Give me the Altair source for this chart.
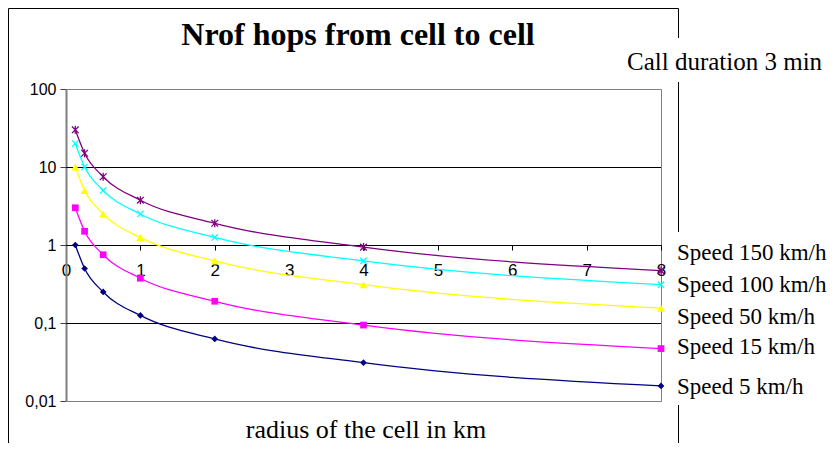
import altair as alt
import pandas as pd

# ---- data ----
radius = [0.125, 0.25, 0.5, 1, 2, 4, 8]
series_names = ["Speed 5 km/h", "Speed 15 km/h", "Speed 50 km/h", "Speed 100 km/h", "Speed 150 km/h"]
hops_5 = [1.0, 0.5, 0.25, 0.125, 0.0625, 0.031, 0.0156]
hops_15 = [3.0, 1.5, 0.75, 0.375, 0.19, 0.094, 0.047]
hops_50 = [10.0, 5.0, 2.5, 1.25, 0.625, 0.31, 0.155]
hops_100 = [20.0, 10.0, 5.0, 2.5, 1.25, 0.625, 0.31]
hops_150 = [30.0, 15.0, 7.5, 3.75, 1.9, 0.94, 0.47]
x_ticks = [0, 1, 2, 3, 4, 5, 6, 7, 8]
y_ticks = [0.01, 0.1, 1, 10, 100]
grid_vals = [0.1, 1, 10]

title_text = "Nrof hops from cell to cell"
subtitle_text = "Call duration 3 min"
x_title = "radius of the cell in km"

colors = ["#000080", "#FF00FF", "#FFFF00", "#00FFFF", "#800080"]
shapes = ["diamond", "square", "triangle-up",
          "M-1,-1L1,1M-1,1L1,-1",
          "M-1,-1L1,1M-1,1L1,-1M0,-1.2L0,1.2"]
filled = [True, True, True, False, False]
sizes = [45, 45, 65, 40, 45]

all_hops = [hops_5, hops_15, hops_50, hops_100, hops_150]
rows = []
for name, vals in zip(series_names, all_hops):
    for r, v in zip(radius, vals):
        rows.append({"radius": r, "hops": v, "series": name})
df = pd.DataFrame(rows)

W, H = 595, 312
SERIF = "Liberation Serif"
SANS = "Liberation Sans"

xs = alt.Scale(domain=[0, 8], nice=False, zero=False)
ys = alt.Scale(type="log", domain=[0.01, 100], nice=False)

xaxis = alt.Axis(values=x_ticks, offset=-156, tickSize=5, labelPadding=12,
                 domainColor="black", tickColor="black", labelColor="black",
                 labelFont=SANS, labelFontSize=17, grid=False, title=None,
                 labelAngle=0, labelFlush=False, labelOverlap=False, format="d")
yaxis = alt.Axis(values=y_ticks, tickSize=6, labelPadding=4,
                 domainColor="#808080", domainWidth=2, tickColor="#404040", labelColor="black",
                 labelFont=SANS, labelFontSize=16, grid=False, title=None,
                 labelExpr="replace(format(datum.value, '~g'), '.', ',')")

grid = alt.Chart(pd.DataFrame({"hops": grid_vals})).mark_rule(
    color="black", strokeWidth=1, yOffset=0.5).encode(
    y=alt.Y("hops:Q", scale=ys, axis=yaxis))

lines = alt.Chart(df).mark_line(interpolate="monotone", strokeWidth=1.3).encode(
    x=alt.X("radius:Q", scale=xs, axis=xaxis),
    y=alt.Y("hops:Q", scale=ys, axis=yaxis),
    color=alt.Color("series:N", scale=alt.Scale(domain=series_names, range=colors), legend=None),
)

layers = [grid, lines]
for name, col, shp, fil, sz in zip(series_names, colors, shapes, filled, sizes):
    pt = alt.Chart(df).transform_filter(alt.datum.series == name).mark_point(
        shape=shp, filled=fil, color=col, size=sz,
        strokeWidth=1.3, opacity=1).encode(
        x=alt.X("radius:Q", scale=xs, axis=xaxis),
        y=alt.Y("hops:Q", scale=ys, axis=yaxis),
    )
    layers.append(pt)

one = pd.DataFrame({"a": [0]})

def label(text, x, y, size, bold=False, align="left", font=SERIF):
    return alt.Chart(one).mark_text(
        text=text, font=font, fontSize=size, fontWeight="bold" if bold else "normal",
        align=align, baseline="middle", color="black").encode(
        x=alt.value(x), y=alt.value(y))

layers.append(label(title_text, 292, -54, 32, bold=True, align="center"))
layers.append(label(subtitle_text, 561, -27, 25))
layers.append(label(x_title, 300, 341, 26, align="center"))
legend_y = [298, 258, 228, 196, 164]
for name, ly in zip(series_names, legend_y):
    layers.append(label(name, 611, ly, 23))

# outer frame
def vline(x, y1, y2):
    return alt.Chart(one).mark_rule(color="black", strokeWidth=1).encode(
        x=alt.value(x), y=alt.value(y1), y2=alt.value(y2))

def hline(x1, x2, y):
    return alt.Chart(one).mark_rule(color="black", strokeWidth=1).encode(
        x=alt.value(x1), x2=alt.value(x2), y=alt.value(y))

layers.append(hline(-57.5, 612.5, -80.5))
layers.append(vline(-57.5, -80.5, 400))
layers.append(vline(612.5, -80.5, -51))
layers.append(vline(612.5, -7, 143))
layers.append(vline(612.5, 316, 400))

chart = alt.layer(*layers).properties(
    width=W, height=H,
    autosize=alt.AutoSizeParams(type="none"),
    padding={"left": 58, "top": 81, "right": 169, "bottom": 42},
    background="white",
).configure_view(stroke="#808080", strokeWidth=1)

chart.save("out.html", embed_options={"renderer": "svg", "actions": False})
